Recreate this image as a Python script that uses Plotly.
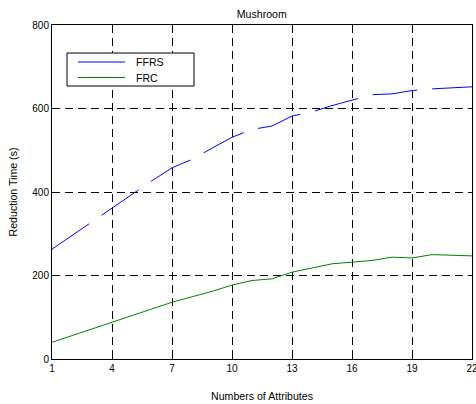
import plotly.graph_objects as go

attrs = list(range(1, 23))
ffrs = [263, 296, 330, 363, 395, 427, 458, 478, 505, 531, 550, 558, 582, 592, 607, 620, 633, 635, 643, 647, 650, 652]
frc = [40, 56, 72, 89, 105, 121, 136, 149, 162, 177, 188, 192, 208, 218, 228, 232, 236, 244, 242, 250, 248, 247]
x_ticks = [1, 4, 7, 10, 13, 16, 19, 22]
y_ticks = [0, 200, 400, 600, 800]
series_names = ["FFRS", "FRC"]
series_colors = ["#0000ff", "#008000"]

fnt = dict(family="Liberation Sans, Arial, sans-serif", size=10, color="black")
fnt_big = dict(family="Liberation Sans, Arial, sans-serif", size=10.6, color="black")

L, R, T, B, W, H = 52, 4, 25, 45, 476, 404
PW, PH = W - L - R, H - T - B


def px_x(p):
    return (p - L) / PW


def px_y(p):
    return (H - B - p) / PH


fig = go.Figure()
fig.add_trace(go.Scatter(x=attrs, y=ffrs, mode="lines", name=series_names[0],
                         line=dict(color=series_colors[0], width=1, dash="45px,15px")))
fig.add_trace(go.Scatter(x=attrs, y=frc, mode="lines", name=series_names[1],
                         line=dict(color=series_colors[1], width=1)))

axis_common = dict(showline=True, linecolor="black", linewidth=1, mirror="ticks",
                   ticks="inside", ticklen=4, tickcolor="black",
                   showgrid=True, gridcolor="black", gridwidth=1, griddash="8px,5px",
                   zeroline=False, tickfont=fnt, automargin=False)

fig.update_xaxes(range=[1, 22], tickvals=x_ticks, ticktext=[str(v) for v in x_ticks],
                 ticklabeloverflow="allow",
                 title=dict(text="Numbers of Attributes", font=fnt_big, standoff=19), **axis_common)
fig.update_yaxes(range=[0, 800], tickvals=y_ticks, ticktext=[str(v) for v in y_ticks],
                 title=dict(text="Reduction Time (s)", font=fnt_big, standoff=12), **axis_common)

# legend box (MATLAB style)
fig.add_shape(type="rect", xref="paper", yref="paper",
              x0=px_x(67), x1=px_x(194), y0=px_y(86), y1=px_y(53),
              line=dict(color="black", width=1), fillcolor="white", layer="above")
for i, (nm, col) in enumerate(zip(series_names, series_colors)):
    yy = 62 + i * 15.5
    fig.add_shape(type="line", xref="paper", yref="paper",
                  x0=px_x(78), x1=px_x(125), y0=px_y(yy), y1=px_y(yy),
                  line=dict(color=col, width=1), layer="above")
    fig.add_annotation(text=nm, xref="paper", yref="paper", x=px_x(134), y=px_y(yy),
                       xanchor="left", yanchor="middle", showarrow=False, font=fnt_big)

fig.update_layout(
    width=W, height=H,
    margin=dict(l=L, r=R, t=T, b=B),
    paper_bgcolor="white", plot_bgcolor="white",
    font=fnt,
    title=dict(text="Mushroom", x=0.55, xanchor="center", y=1 - 14 / H, yanchor="middle",
               font=fnt_big),
    showlegend=False,
)

fig.write_html("out.html")
